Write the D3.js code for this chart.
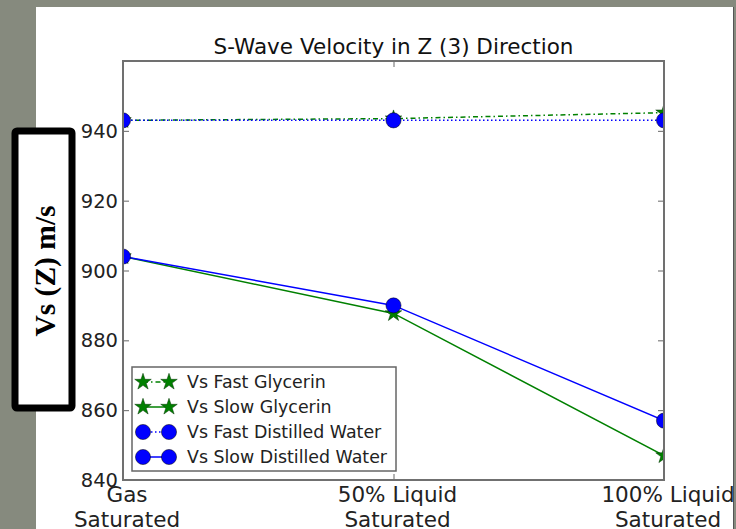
<!DOCTYPE html>
<html>
<head>
<meta charset="utf-8">
<script src="https://cdn.jsdelivr.net/npm/d3@7"></script>
<style>
  body { margin: 0; background: #868a7e; }
  svg { display: block; }
</style>
</head>
<body>
<div id="chart"></div>
<script>

var categories = ["Gas\nSaturated", "50% Liquid\nSaturated", "100% Liquid\nSaturated"];
var fastGlycerin = [943, 943.5, 945.2];
var slowGlycerin = [904, 887.7, 847];
var fastWater = [943, 943, 943];
var slowWater = [904, 890, 857];
var yTicks = [840, 860, 880, 900, 920, 940];

var width = 736, height = 529;
var plot = {left: 123, right: 664, top: 61, bottom: 480};

var series = [
    {name: "Vs Fast Glycerin", values: fastGlycerin, color: "#008000", dash: "5,3,1.5,3", marker: "star"},
    {name: "Vs Slow Glycerin", values: slowGlycerin, color: "#008000", dash: null, marker: "star"},
    {name: "Vs Fast Distilled Water", values: fastWater, color: "#0000ff", dash: "1.5,2.5", marker: "circle"},
    {name: "Vs Slow Distilled Water", values: slowWater, color: "#0000ff", dash: null, marker: "circle"}
];

var svg = d3.select("#chart").append("svg")
    .attr("width", width)
    .attr("height", height);

// white slide panel
svg.append("rect")
    .attr("x", 36).attr("y", 7)
    .attr("width", 697).attr("height", height - 7)
    .attr("fill", "#fff");
svg.append("line")
    .attr("x1", 733.5).attr("x2", 733.5)
    .attr("y1", 7).attr("y2", height)
    .attr("stroke", "#555").attr("stroke-width", 1);

var x = d3.scaleLinear().domain([0, 2]).range([plot.left, plot.right]);
var y = d3.scaleLinear().domain([840, 960]).range([plot.bottom, plot.top]);

svg.append("clipPath").attr("id", "clip")
    .append("rect")
    .attr("x", plot.left).attr("y", plot.top)
    .attr("width", plot.right - plot.left)
    .attr("height", plot.bottom - plot.top);

// title
svg.append("text")
    .attr("x", (plot.left + plot.right) / 2)
    .attr("y", 54)
    .attr("text-anchor", "middle")
    .attr("font-family", "DejaVu Sans")
    .attr("font-size", 21.5)
    .attr("fill", "#111")
    .text("S-Wave Velocity in Z (3) Direction");

// axes (ticks inward, matplotlib style)
var tickColor = "#666";
var yAxisL = d3.axisRight(y).tickValues(yTicks).tickSize(6).tickFormat("");
var yAxisR = d3.axisLeft(y).tickValues(yTicks).tickSize(6).tickFormat("");
var xAxisB = d3.axisTop(x).tickValues([0, 1, 2]).tickSize(6).tickFormat("");
var xAxisT = d3.axisBottom(x).tickValues([0, 1, 2]).tickSize(6).tickFormat("");

[[yAxisL, "translate(" + plot.left + ",0)"],
 [yAxisR, "translate(" + plot.right + ",0)"],
 [xAxisB, "translate(0," + plot.bottom + ")"],
 [xAxisT, "translate(0," + plot.top + ")"]].forEach(function (a) {
    var g = svg.append("g").attr("transform", a[1]).call(a[0]);
    g.select(".domain").remove();
    g.selectAll("line").attr("stroke", tickColor).attr("stroke-width", 1);
});

// y tick labels
svg.append("g").selectAll("text")
    .data(yTicks)
    .enter()
    .append("text")
    .attr("x", plot.left - 5)
    .attr("y", d => y(d))
    .attr("dy", "0.36em")
    .attr("text-anchor", "end")
    .attr("font-family", "DejaVu Sans")
    .attr("font-size", 19.5)
    .attr("fill", "#222")
    .text(d => d);

// x tick labels (slightly right of the ticks, as in the slide)
var xl = svg.append("g").selectAll("text")
    .data(categories)
    .enter()
    .append("text")
    .attr("text-anchor", "middle")
    .attr("font-family", "DejaVu Sans")
    .attr("font-size", 21.5)
    .attr("fill", "#222");
xl.each(function (d, i) {
    var lines = d.split("\n");
    d3.select(this).selectAll("tspan")
        .data(lines)
        .enter()
        .append("tspan")
        .attr("x", x(i) + 4)
        .attr("y", (l, j) => 502 + j * 25)
        .text(l => l);
});

// lines and markers
var star = d3.symbol().type(d3.symbolStar).size(85);
var circle = d3.symbol().type(d3.symbolCircle).size(180);
var line = d3.line().x((d, i) => x(i)).y(d => y(d));

var plotG = svg.append("g").attr("clip-path", "url(#clip)");
series.forEach(function (s) {
    plotG.append("path")
        .attr("d", line(s.values))
        .attr("fill", "none")
        .attr("stroke", s.color)
        .attr("stroke-width", 1.5)
        .attr("stroke-dasharray", s.dash);
    plotG.append("g").selectAll("path")
        .data(s.values)
        .enter()
        .append("path")
        .attr("transform", (d, i) => "translate(" + x(i) + "," + y(d) + ")")
        .attr("d", s.marker == "star" ? star : circle)
        .attr("fill", s.color)
        .attr("stroke", s.marker == "star" ? "#003300" : "#000")
        .attr("stroke-width", 0.5);
});

// plot frame
svg.append("rect")
    .attr("x", plot.left).attr("y", plot.top)
    .attr("width", plot.right - plot.left)
    .attr("height", plot.bottom - plot.top)
    .attr("fill", "none")
    .attr("stroke", "#707070")
    .attr("stroke-width", 2);

// legend
var lg = svg.append("g");
lg.append("rect")
    .attr("x", 132).attr("y", 367)
    .attr("width", 264).attr("height", 104)
    .attr("fill", "#fff")
    .attr("stroke", "#666")
    .attr("stroke-width", 1.5);
series.forEach(function (s, i) {
    var ly = 382 + i * 25;
    lg.append("line")
        .attr("x1", 143).attr("x2", 169)
        .attr("y1", ly).attr("y2", ly)
        .attr("stroke", s.color)
        .attr("stroke-width", 1.5)
        .attr("stroke-dasharray", s.dash);
    [143, 169].forEach(function (mx) {
        lg.append("path")
            .attr("transform", "translate(" + mx + "," + ly + ")")
            .attr("d", s.marker == "star" ? star : circle)
            .attr("fill", s.color)
            .attr("stroke", s.marker == "star" ? "#003300" : "#000")
            .attr("stroke-width", 0.5);
    });
    lg.append("text")
        .attr("x", 187)
        .attr("y", ly)
        .attr("dy", "0.36em")
        .attr("font-family", "DejaVu Sans")
        .attr("font-size", 17.4)
        .attr("fill", "#222")
        .text(s.name);
});

// y label box
svg.append("rect")
    .attr("x", 15).attr("y", 131)
    .attr("width", 57).attr("height", 277)
    .attr("fill", "#fff")
    .attr("stroke", "#000")
    .attr("stroke-width", 7)
    .attr("rx", 2);
svg.append("text")
    .attr("transform", "translate(55,271) rotate(-90)")
    .attr("text-anchor", "middle")
    .attr("font-family", "Liberation Serif")
    .attr("font-weight", "bold")
    .attr("font-size", 29.5)
    .attr("fill", "#000")
    .text("Vs (Z) m/s");

</script>
</body>
</html>
